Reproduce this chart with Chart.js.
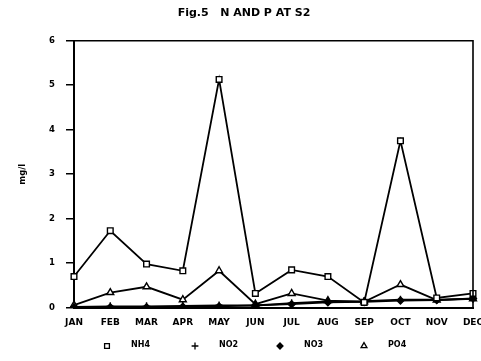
<!DOCTYPE html>
<html><head><meta charset="utf-8">
<script src="https://cdn.jsdelivr.net/npm/chart.js@4"></script>
<style>html,body{margin:0;padding:0;background:#fff}</style>
</head><body>
<canvas id="c" width="481" height="361"></canvas>
<script>
const months = ['JAN','FEB','MAR','APR','MAY','JUN','JUL','AUG','SEP','OCT','NOV','DEC'];
const nh4 = [0.70, 1.73, 0.98, 0.83, 5.13, 0.32, 0.85, 0.70, 0.12, 3.75, 0.22, 0.32];
const no2 = [0.02, 0.03, 0.03, 0.04, 0.05, 0.05, 0.10, 0.14, 0.15, 0.18, 0.18, 0.20];
const no3 = [0.00, 0.01, 0.01, 0.02, 0.03, 0.05, 0.08, 0.12, 0.13, 0.16, 0.17, 0.21];
const po4 = [0.06, 0.34, 0.47, 0.18, 0.83, 0.08, 0.32, 0.16, 0.13, 0.52, 0.17, 0.20];
const seriesNames = ['NH4', 'NO2', 'NO3', 'PO4'];
const yMin = 0, yMax = 6, yStep = 1;
const titleText = 'Fig.5   N AND P AT S2';
const yTitle = 'mg/l';

Chart.defaults.font.family = "'DejaVu Sans', sans-serif";
Chart.defaults.color = '#000';

const common = { borderColor: '#000', borderWidth: 1.8, tension: 0, fill: false, pointBorderColor: '#000', pointBorderWidth: 1.4 };

const frame = {
  id: 'frame',
  afterDraw(chart) {
    const {ctx, chartArea: a} = chart;
    ctx.save();
    ctx.strokeStyle = '#000';
    ctx.lineWidth = 1.6;
    ctx.beginPath();
    ctx.moveTo(a.left, a.top); ctx.lineTo(a.right, a.top); ctx.lineTo(a.right, a.bottom);
    ctx.stroke();
    // legend
    const xs = [107, 195, 280, 364];
    const y = 346;
    chart.data.datasets.forEach((ds, i) => {
      ctx.strokeStyle = '#000';
      ctx.fillStyle = ds.pointBackgroundColor;
      ctx.lineWidth = 1.3;
      Chart.helpers.drawPoint(ctx, {pointStyle: ds.pointStyle, radius: ds.pointRadius * 0.85, rotation: 0, borderWidth: 1.3}, xs[i], y);
      ctx.fillStyle = '#000';
      ctx.font = "bold 8px 'DejaVu Sans'";
      ctx.textBaseline = 'middle';
      ctx.textAlign = 'left';
      ctx.fillText(ds.label, xs[i] + 24, y - 1);
    });
    ctx.restore();
  }
};

new Chart(document.getElementById('c'), {
  type: 'line',
  data: {
    labels: months,
    datasets: [
      Object.assign({ label: seriesNames[0], data: nh4, pointStyle: 'rect', pointRadius: 4, pointBackgroundColor: '#fff' }, common),
      Object.assign({ label: seriesNames[1], data: no2, pointStyle: 'cross', pointRadius: 4, pointBackgroundColor: '#000' }, common),
      Object.assign({ label: seriesNames[2], data: no3, pointStyle: 'rectRot', pointRadius: 3.5, pointBackgroundColor: '#000' }, common),
      Object.assign({ label: seriesNames[3], data: po4, pointStyle: 'triangle', pointRadius: 4, pointBackgroundColor: '#fff' }, common)
    ]
  },
  options: {
    responsive: false,
    animation: false,
    devicePixelRatio: 1,
    layout: { padding: { left: 15, right: 8, top: 0, bottom: 30 } },
    plugins: {
      legend: { display: false },
      tooltip: { enabled: false },
      title: { display: true, text: titleText, color: '#000', font: { size: 11, weight: 'bold' }, padding: { top: 7, bottom: 20.5 } }
    },
    scales: {
      x: {
        offset: false,
        afterFit(s) { s.height = 23.3; s.paddingRight = 0; s.paddingLeft = 0; },
        grid: { display: false, drawTicks: false },
        border: { display: true, color: '#000', width: 2 },
        ticks: { autoSkip: false, maxRotation: 0, padding: 10, color: '#000', font: { size: 9, weight: 'bold' } }
      },
      y: {
        min: yMin, max: yMax,
        afterFit(s) { s.width = 59; },
        grid: { display: true, drawOnChartArea: false, drawTicks: true, tickLength: 8, color: '#000', lineWidth: 1.5 },
        border: { display: true, color: '#000', width: 2 },
        ticks: { stepSize: yStep, padding: 11, color: '#000', font: { size: 8.5, weight: 'bold' } },
        title: { display: true, text: yTitle, color: '#000', font: { size: 8.5, weight: 'bold' }, padding: 3 }
      }
    }
  },
  plugins: [frame]
});
</script>
</body></html>
